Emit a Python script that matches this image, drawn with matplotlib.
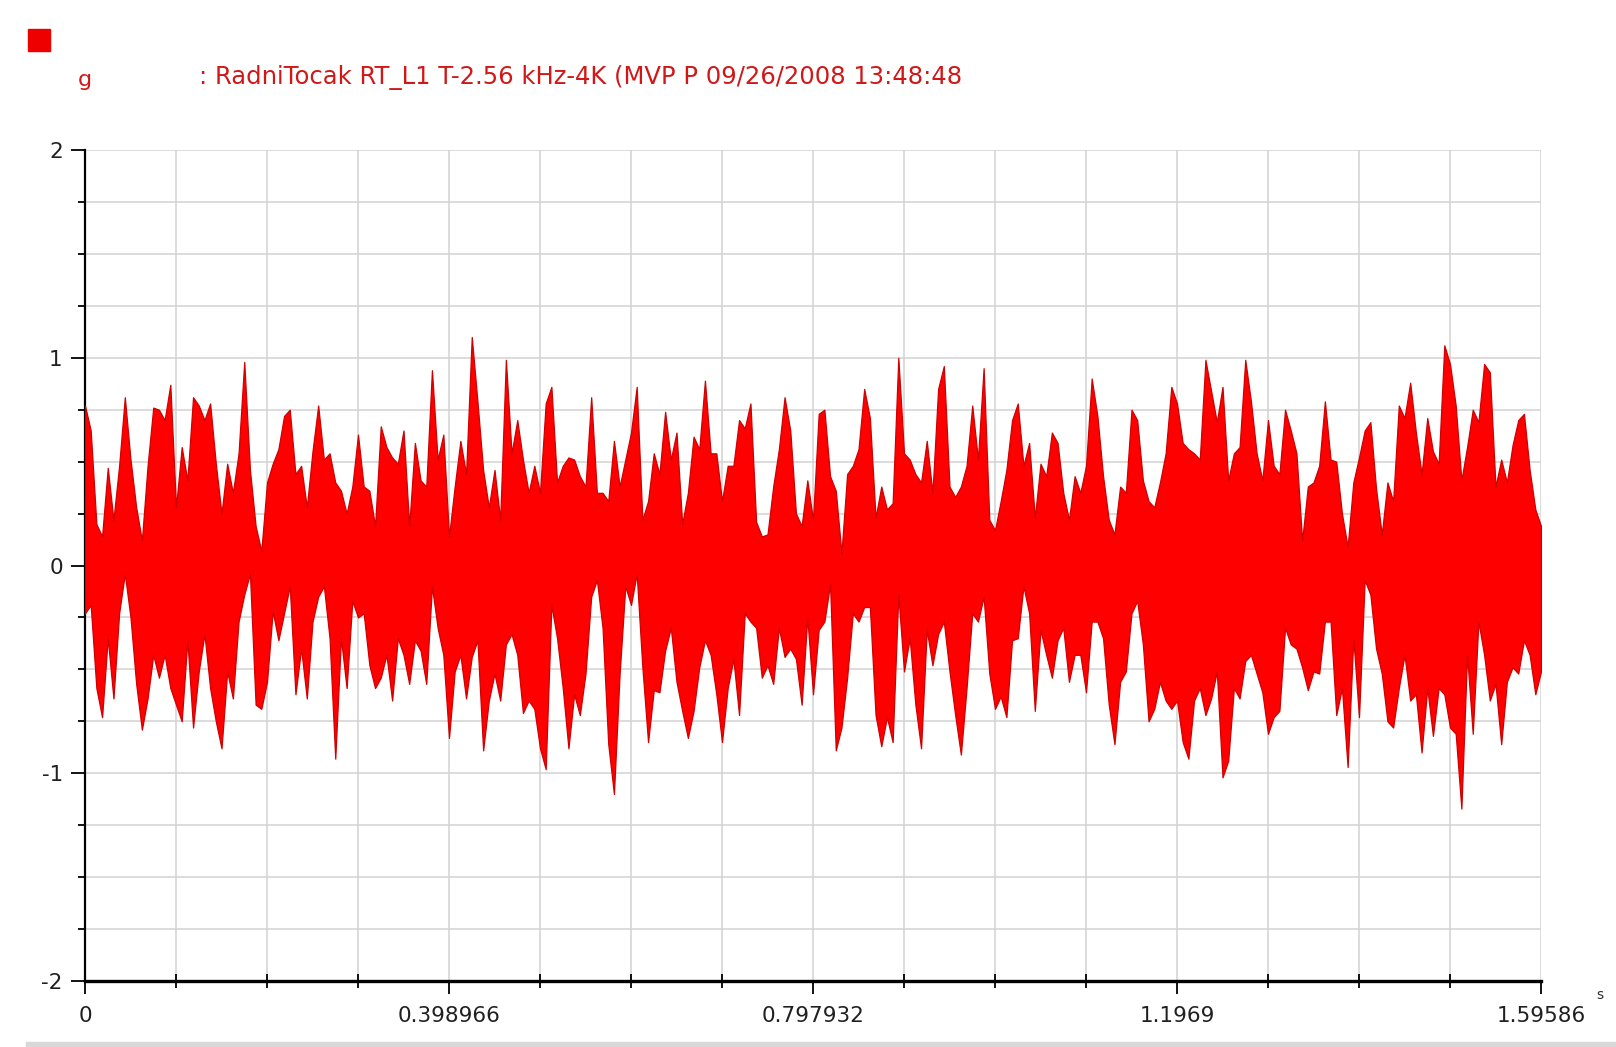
"""Vibration signal plot: RadniTocak RT_L1, acceleration g vs time."""
import numpy as np
import matplotlib
matplotlib.use('Agg')
import matplotlib.pyplot as plt
from matplotlib.patches import Rectangle

plt.rcParams['axes.unicode_minus'] = False

# time range of the record (s)
t_end = 1.59586
x_major = [0, 0.398966, 0.797932, 1.196898, 1.59586]
x_labels = ['0', '0.398966', '0.797932', '1.1969', '1.59586']
y_major = [-2, -1, 0, 1, 2]

title_text = ': RadniTocak RT_L1 T-2.56 kHz-4K (MVP P 09/26/2008 13:48:48'
channel = 'g'
unit = 's'

# upper envelope of the signal (g), 257 evenly spaced samples
upper = [
    0.77, 0.65, 0.20, 0.14, 0.47, 0.22, 0.48, 0.81, 0.51, 0.28,
    0.12, 0.48, 0.76, 0.75, 0.70, 0.87, 0.28, 0.57, 0.41, 0.81,
    0.77, 0.70, 0.78, 0.49, 0.25, 0.49, 0.35, 0.54, 0.98, 0.46,
    0.19, 0.07, 0.40, 0.49, 0.56, 0.72, 0.75, 0.44, 0.48, 0.28,
    0.55, 0.77, 0.51, 0.54,
    0.40, 0.36, 0.25, 0.38, 0.63, 0.38, 0.36, 0.19, 0.67, 0.57,
    0.52, 0.49, 0.65, 0.19, 0.59, 0.41, 0.38, 0.94, 0.51, 0.63,
    0.14, 0.38, 0.60, 0.44, 1.10, 0.79, 0.46, 0.28, 0.46, 0.22,
    0.99, 0.54, 0.70, 0.51, 0.35, 0.48, 0.35, 0.78, 0.86, 0.40,
    0.48, 0.52, 0.51,
    0.43, 0.38, 0.81, 0.35, 0.35, 0.31, 0.60, 0.38, 0.51, 0.64,
    0.86, 0.22, 0.31, 0.54, 0.44, 0.74, 0.51, 0.64, 0.20, 0.35,
    0.62, 0.56, 0.89, 0.54, 0.54, 0.31, 0.48, 0.48, 0.70, 0.66,
    0.78, 0.21, 0.14, 0.15, 0.38, 0.56, 0.81, 0.65, 0.25, 0.19,
    0.41, 0.22, 0.73,
    0.75, 0.43, 0.36, 0.06, 0.44, 0.48, 0.56, 0.85, 0.71, 0.23,
    0.38, 0.27, 0.30, 1.00, 0.54, 0.51, 0.44, 0.40, 0.60, 0.35,
    0.85, 0.96, 0.38, 0.33, 0.38, 0.48, 0.77, 0.51, 0.95, 0.22,
    0.17, 0.31, 0.46, 0.70, 0.78, 0.48, 0.59, 0.23, 0.49, 0.43,
    0.64, 0.59, 0.35,
    0.22, 0.43, 0.35, 0.48, 0.90, 0.72, 0.43, 0.22, 0.15, 0.38,
    0.35, 0.75, 0.70, 0.41, 0.31, 0.28, 0.40, 0.54, 0.86, 0.78,
    0.59, 0.56, 0.54, 0.51, 0.99, 0.84, 0.69, 0.86, 0.41, 0.54,
    0.57, 0.99, 0.79, 0.54, 0.41, 0.70, 0.48, 0.44, 0.75, 0.65,
    0.54, 0.12, 0.38,
    0.40, 0.48, 0.79, 0.51, 0.50, 0.25, 0.09, 0.40, 0.52, 0.65,
    0.69, 0.37, 0.15, 0.40, 0.31, 0.77, 0.71, 0.88, 0.64, 0.44,
    0.71, 0.55, 0.49, 1.06, 0.97, 0.77, 0.41, 0.57, 0.75, 0.69,
    0.97, 0.93, 0.38, 0.51, 0.40, 0.58, 0.70, 0.73, 0.46, 0.27,
    0.19,
]

# lower envelope of the signal (g), same samples
lower = [
    -0.23, -0.19, -0.59, -0.73, -0.35, -0.64, -0.23, -0.04, -0.25, -0.57,
    -0.79, -0.64, -0.43, -0.54, -0.43, -0.59, -0.67, -0.75, -0.36, -0.78,
    -0.51, -0.33, -0.59, -0.75, -0.88, -0.51, -0.64, -0.27, -0.14, -0.04,
    -0.67, -0.69, -0.56, -0.22, -0.36, -0.23, -0.10, -0.62, -0.40, -0.64,
    -0.27, -0.15, -0.10, -0.35,
    -0.93, -0.35, -0.59, -0.17, -0.25, -0.23, -0.48, -0.59, -0.54, -0.43,
    -0.65, -0.35, -0.43, -0.57, -0.36, -0.41, -0.57, -0.10, -0.30, -0.43,
    -0.83, -0.51, -0.43, -0.64, -0.44, -0.36, -0.89, -0.65, -0.52, -0.65,
    -0.38, -0.33, -0.43, -0.71, -0.65, -0.69, -0.88, -0.98, -0.19, -0.35,
    -0.59, -0.88, -0.62,
    -0.72, -0.52, -0.15, -0.07, -0.30, -0.86, -1.10, -0.52, -0.10, -0.19,
    -0.04, -0.49, -0.85, -0.60, -0.61, -0.41, -0.30, -0.56, -0.70, -0.83,
    -0.70, -0.49, -0.36, -0.43, -0.62, -0.85, -0.59, -0.45, -0.72, -0.23,
    -0.27, -0.30, -0.54, -0.48, -0.57, -0.30, -0.44, -0.40, -0.45, -0.67,
    -0.25, -0.62, -0.31,
    -0.27, -0.09, -0.89, -0.78, -0.54, -0.23, -0.27, -0.20, -0.20, -0.72,
    -0.87, -0.73, -0.85, -0.14, -0.51, -0.35, -0.67, -0.88, -0.31, -0.48,
    -0.33, -0.27, -0.51, -0.72, -0.91, -0.59, -0.23, -0.27, -0.15, -0.52,
    -0.69, -0.63, -0.73, -0.36, -0.35, -0.10, -0.23, -0.70, -0.31, -0.43,
    -0.54, -0.36, -0.30,
    -0.56, -0.43, -0.43, -0.61, -0.27, -0.27, -0.35, -0.67, -0.86, -0.56,
    -0.51, -0.23, -0.17, -0.38, -0.75, -0.69, -0.56, -0.65, -0.69, -0.65,
    -0.85, -0.93, -0.65, -0.59, -0.72, -0.64, -0.51, -1.02, -0.94, -0.59,
    -0.64, -0.46, -0.43, -0.52, -0.61, -0.81, -0.73, -0.70, -0.30, -0.38,
    -0.40, -0.49, -0.60,
    -0.51, -0.52, -0.27, -0.27, -0.72, -0.59, -0.97, -0.35, -0.73, -0.07,
    -0.14, -0.40, -0.52, -0.75, -0.78, -0.59, -0.43, -0.65, -0.62, -0.90,
    -0.59, -0.82, -0.59, -0.62, -0.78, -0.81, -1.17, -0.43, -0.81, -0.27,
    -0.43, -0.65, -0.57, -0.86, -0.56, -0.49, -0.52, -0.36, -0.43, -0.62,
    -0.51,
]

W, H = 1616, 1047
fig = plt.figure(figsize=(W / 100, H / 100), dpi=100)
fig.patch.set_facecolor('white')

# plot area in pixels: x 85..1541, y 150..981
ax = fig.add_axes([85 / W, 1 - 981 / H, (1541 - 85) / W, (981 - 150) / H])

t = np.linspace(0, t_end, len(upper))
ax.fill_between(t, lower, upper, color='#ff0000', edgecolor='#d00000',
                linewidth=0.9, zorder=3)

ax.set_xlim(0, t_end)
ax.set_ylim(-2, 2)

# ticks
ax.set_xticks(x_major)
ax.set_xticklabels(x_labels)
ax.set_xticks(np.linspace(0, t_end, 17), minor=True)
ax.set_yticks(y_major)
ax.set_yticks(np.arange(-2, 2.01, 0.25), minor=True)

ax.tick_params(axis='both', which='major', labelsize=15.5, colors='black',
               labelcolor='#202020')
ax.tick_params(axis='y', which='major', direction='out', length=10, width=1.3, pad=6)
ax.tick_params(axis='y', which='minor', direction='out', length=5, width=1.3)
ax.tick_params(axis='x', which='major', direction='out', length=9, width=1.3, pad=9)
ax.tick_params(axis='x', which='minor', direction='inout', length=10, width=1.3)

ax.grid(True, which='both', color='#d2d2d2', linewidth=1.1, zorder=0)
ax.set_axisbelow(True)

for side in ['top', 'right']:
    ax.spines[side].set_visible(False)
ax.spines['left'].set_linewidth(1.6)
ax.spines['bottom'].set_linewidth(2.4)

# header: red marker, channel name and record description
fig.add_artist(Rectangle((28 / W, 1 - 51 / H), 22 / W, 22 / H,
                         transform=fig.transFigure, color='#ee0000'))
fig.text(78 / W, 1 - 80 / H, channel, color='#d01818', fontsize=16,
         va='center', ha='left')
fig.text(199 / W, 1 - 77 / H, title_text, color='#d01818', fontsize=17.5,
         va='center', ha='left')
fig.text(1596 / W, 1 - 995 / H, unit, color='#303030', fontsize=10,
         va='center', ha='left')

# grey strip at the bottom edge of the window
fig.add_artist(Rectangle((26 / W, 0), 1 - 26 / W, 5 / H,
                         transform=fig.transFigure, color='#d8d8d8'))

fig.savefig('out.png', dpi=100)
